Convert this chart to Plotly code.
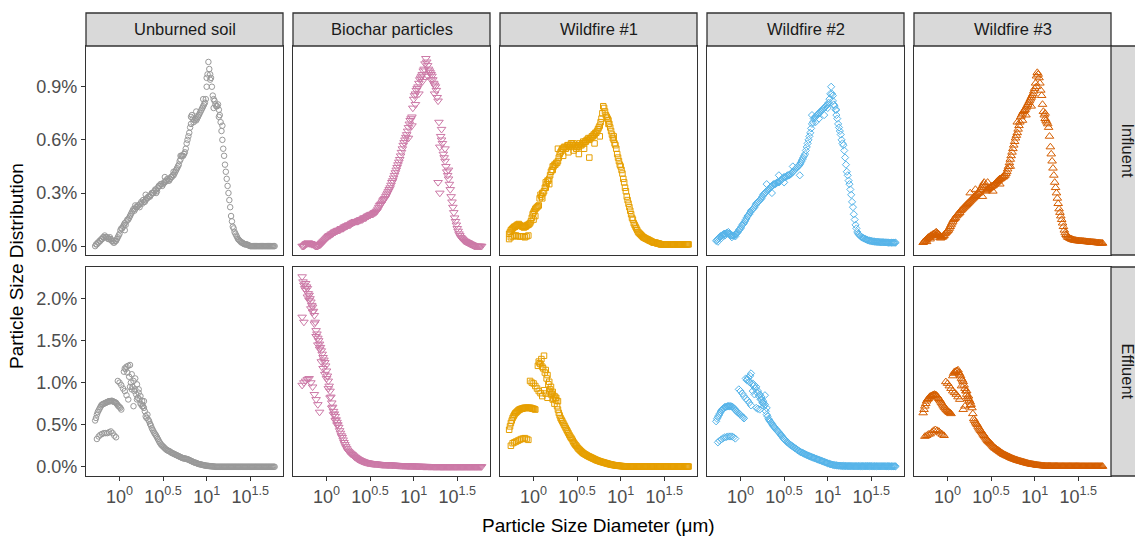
import plotly.graph_objects as go

# ---------------- data (log10 of particle diameter in um, value in %) ----------------
log_d = [-0.28, -0.26, -0.24, -0.22, -0.20, -0.18, -0.16, -0.14, -0.12, -0.10,
         -0.08, -0.06, -0.04, -0.02, 0.00, 0.02, 0.04, 0.06, 0.08, 0.10,
         0.12, 0.14, 0.16, 0.18, 0.20, 0.22, 0.24, 0.26, 0.28, 0.30,
         0.32, 0.34, 0.36, 0.38, 0.40, 0.42, 0.44, 0.46, 0.48, 0.50,
         0.52, 0.54, 0.56, 0.58, 0.60, 0.62, 0.64, 0.66, 0.68, 0.70,
         0.72, 0.74, 0.76, 0.78, 0.80, 0.82, 0.84, 0.86, 0.88, 0.90,
         0.92, 0.94, 0.96, 0.98, 1.00, 1.02, 1.04, 1.06, 1.08, 1.10,
         1.12, 1.14, 1.16, 1.18, 1.20, 1.22, 1.24, 1.26, 1.28, 1.30,
         1.32, 1.34, 1.36, 1.38, 1.40, 1.42, 1.44, 1.46, 1.48, 1.50,
         1.52, 1.54, 1.56, 1.58, 1.60, 1.62, 1.64, 1.66, 1.68, 1.70,
         1.72, 1.74, 1.76, 1.78]
# second replicate measured on interleaved bins
log_d2 = [-0.27, -0.25, -0.23, -0.21, -0.19, -0.17, -0.15, -0.13, -0.11, -0.09,
          -0.07, -0.05, -0.03, -0.01, 0.01, 0.03, 0.05, 0.07, 0.09, 0.11,
          0.13, 0.15, 0.17, 0.19, 0.21, 0.23, 0.25, 0.27, 0.29, 0.31,
          0.33, 0.35, 0.37, 0.39, 0.41, 0.43, 0.45, 0.47, 0.49, 0.51,
          0.53, 0.55, 0.57, 0.59, 0.61, 0.63, 0.65, 0.67, 0.69, 0.71,
          0.73, 0.75, 0.77, 0.79, 0.81, 0.83, 0.85, 0.87, 0.89, 0.91,
          0.93, 0.95, 0.97, 0.99, 1.01, 1.03, 1.05, 1.07, 1.09, 1.11,
          1.13, 1.15, 1.17, 1.19, 1.21, 1.23, 1.25, 1.27, 1.29, 1.31,
          1.33, 1.35, 1.37, 1.39, 1.41, 1.43, 1.45, 1.47, 1.49, 1.51,
          1.53, 1.55, 1.57, 1.59, 1.61, 1.63, 1.65, 1.67, 1.69, 1.71,
          1.73, 1.75, 1.77]

samples = ["Unburned soil", "Biochar particles", "Wildfire #1", "Wildfire #2", "Wildfire #3"]
rows = ["Influent", "Effluent"]

# ---- Influent ----
unburned_inf = [0.00, 0.01, 0.02, 0.03, 0.04, 0.05, 0.05, 0.05, 0.04, 0.04,
                0.03, 0.02, 0.03, 0.05, 0.07, 0.10, 0.11, 0.13, 0.14, 0.15,
                0.17, 0.19, 0.21, 0.21, 0.22, 0.23, 0.24, 0.24, 0.25, 0.26,
                0.27, 0.28, 0.29, 0.30, 0.31, 0.32, 0.33, 0.34, 0.35, 0.35,
                0.36, 0.37, 0.37, 0.38, 0.39, 0.40, 0.42, 0.44, 0.46, 0.49,
                0.51, 0.52, 0.55, 0.60, 0.64, 0.69, 0.72, 0.71, 0.71, 0.73,
                0.75, 0.77, 0.79, 0.81, 0.90, 1.04, 0.97, 0.90, 0.83, 0.80,
                0.79, 0.77, 0.70, 0.60, 0.51, 0.42, 0.34, 0.26, 0.17, 0.11,
                0.08, 0.06, 0.04, 0.03, 0.02, 0.015, 0.01, 0.01, 0.005, 0.0,
                0.0, 0.0, 0.0, 0.0, 0.0, 0.0, 0.0, 0.0, 0.0, 0.0,
                0.0, 0.0, 0.0, 0.0]
unburned_inf_rep2 = [0.01, 0.02, 0.03, 0.04, 0.05, 0.06, 0.05, 0.04, 0.05, 0.03,
                     0.02, 0.03, 0.04, 0.06, 0.09, 0.10, 0.12, 0.12, 0.15, 0.16,
                     0.18, 0.20, 0.20, 0.22, 0.23, 0.22, 0.25, 0.26, 0.25, 0.27,
                     0.28, 0.28, 0.30, 0.30, 0.32, 0.31, 0.34, 0.35, 0.34, 0.36,
                     0.37, 0.38, 0.37, 0.39, 0.40, 0.41, 0.43, 0.45, 0.48, 0.51,
                     0.51, 0.53, 0.58, 0.62, 0.67, 0.74, 0.70, 0.72, 0.72, 0.74,
                     0.76, 0.78, 0.80, 0.83, 0.97, 1.00, 0.95, 0.85, 0.82, 0.79,
                     0.80, 0.74, 0.65, 0.55, 0.46, 0.38, 0.30, 0.22, 0.14, 0.10,
                     0.07, 0.05, 0.035, 0.025, 0.02, 0.012, 0.01, 0.007, 0.003, 0.0,
                     0.0, 0.0, 0.0, 0.0, 0.0, 0.0, 0.0, 0.0, 0.0, 0.0,
                     0.0, 0.0, 0.0]
unburned_inf_b_x = [0.06, 0.18, 0.30, 0.42, 0.52, 0.62, 0.70, 0.82, 0.88, 0.96, 1.00, 1.04, 1.08, 1.14, 1.18]
unburned_inf_b = [0.09, 0.23, 0.29, 0.30, 0.39, 0.42, 0.51, 0.73, 0.76, 0.83, 0.95, 0.94, 0.78, 0.73, 0.68]

biochar_inf = [0.00, 0.00, 0.01, 0.015, 0.015, 0.015, 0.01, 0.005, 0.00, 0.00,
               0.005, 0.015, 0.025, 0.035, 0.045, 0.055, 0.06, 0.07, 0.075, 0.08,
               0.085, 0.09, 0.095, 0.10, 0.105, 0.11, 0.115, 0.12, 0.125, 0.13,
               0.135, 0.14, 0.14, 0.145, 0.15, 0.155, 0.16, 0.165, 0.17, 0.175,
               0.18, 0.185, 0.19, 0.20, 0.22, 0.235, 0.25, 0.265, 0.28, 0.30,
               0.32, 0.345, 0.37, 0.40, 0.43, 0.46, 0.49, 0.53, 0.57, 0.60,
               0.63, 0.67, 0.71, 0.73, 0.83, 0.86, 0.89, 0.92, 0.95, 0.97,
               1.00, 1.06, 1.02, 0.99, 0.97, 0.94, 0.91, 0.88, 0.82, 0.56,
               0.66, 0.52, 0.48, 0.42, 0.38, 0.32, 0.25, 0.19, 0.14, 0.10,
               0.07, 0.05, 0.04, 0.03, 0.025, 0.02, 0.015, 0.01, 0.005, 0.0,
               0.0, 0.0, 0.0, 0.0]
biochar_inf_rep2 = [0.00, 0.005, 0.015, 0.02, 0.015, 0.01, 0.01, 0.00, 0.00, 0.005,
                    0.01, 0.02, 0.03, 0.04, 0.05, 0.06, 0.065, 0.07, 0.08, 0.085,
                    0.09, 0.09, 0.10, 0.10, 0.11, 0.115, 0.12, 0.12, 0.13, 0.135,
                    0.14, 0.14, 0.145, 0.15, 0.15, 0.16, 0.16, 0.17, 0.175, 0.18,
                    0.18, 0.19, 0.195, 0.21, 0.23, 0.24, 0.26, 0.27, 0.29, 0.31,
                    0.33, 0.36, 0.385, 0.415, 0.445, 0.475, 0.51, 0.55, 0.585, 0.615,
                    0.65, 0.69, 0.72, 0.78, 0.85, 0.88, 0.90, 0.94, 0.96, 0.99,
                    1.03, 1.04, 1.00, 0.98, 0.96, 0.92, 0.90, 0.84, 0.70, 0.62,
                    0.58, 0.50, 0.45, 0.40, 0.35, 0.28, 0.22, 0.16, 0.12, 0.085,
                    0.06, 0.045, 0.035, 0.028, 0.022, 0.018, 0.012, 0.008, 0.003, 0.0,
                    0.0, 0.0, 0.0]
biochar_inf_b_x = [1.28, 1.30, 1.02, 1.06, 1.10, 1.16, 1.20, 1.24, 1.32, 1.36, 1.40, 0.98, 0.94]
biochar_inf_b = [0.36, 0.30, 0.80, 0.86, 0.93, 0.96, 0.94, 0.86, 0.60, 0.55, 0.43, 0.68, 0.61]

wf1_inf = [0.07, 0.09, 0.10, 0.11, 0.115, 0.12, 0.12, 0.115, 0.11, 0.11,
           0.115, 0.12, 0.13, 0.16, 0.19, 0.21, 0.22, 0.23, 0.29, 0.30,
           0.31, 0.36, 0.37, 0.38, 0.42, 0.45, 0.46, 0.47, 0.48, 0.52,
           0.54, 0.55, 0.56, 0.56, 0.57, 0.57, 0.58, 0.58, 0.57, 0.56,
           0.56, 0.57, 0.58, 0.58, 0.59, 0.60, 0.60, 0.61, 0.62, 0.63,
           0.64, 0.66, 0.68, 0.72, 0.79, 0.76, 0.73, 0.71, 0.67, 0.63,
           0.60, 0.57, 0.52, 0.48, 0.45, 0.41, 0.36, 0.31, 0.26, 0.22,
           0.18, 0.15, 0.12, 0.10, 0.08, 0.07, 0.06, 0.05, 0.045, 0.04,
           0.035, 0.03, 0.025, 0.02, 0.02, 0.015, 0.015, 0.01, 0.01, 0.01,
           0.01, 0.01, 0.01, 0.01, 0.01, 0.01, 0.01, 0.01, 0.01, 0.01,
           0.01, 0.01, 0.01, 0.01]
wf1_inf_rep2 = [0.08, 0.095, 0.105, 0.11, 0.12, 0.125, 0.115, 0.11, 0.105, 0.11,
                0.12, 0.125, 0.14, 0.18, 0.20, 0.215, 0.225, 0.27, 0.28, 0.30,
                0.33, 0.35, 0.37, 0.40, 0.43, 0.45, 0.46, 0.47, 0.50, 0.53,
                0.55, 0.56, 0.55, 0.57, 0.56, 0.58, 0.57, 0.56, 0.55, 0.57,
                0.58, 0.57, 0.59, 0.59, 0.60, 0.61, 0.61, 0.62, 0.63, 0.64,
                0.65, 0.67, 0.70, 0.75, 0.78, 0.74, 0.72, 0.69, 0.65, 0.61,
                0.58, 0.55, 0.50, 0.46, 0.43, 0.38, 0.33, 0.28, 0.24, 0.20,
                0.16, 0.13, 0.11, 0.09, 0.075, 0.065, 0.055, 0.048, 0.042, 0.038,
                0.032, 0.028, 0.022, 0.02, 0.018, 0.015, 0.012, 0.01, 0.01, 0.01,
                0.01, 0.01, 0.01, 0.01, 0.01, 0.01, 0.01, 0.01, 0.01, 0.01,
                0.01, 0.01, 0.01]
wf1_inf_b_x = [-0.28, -0.26, -0.24, -0.22, -0.20, -0.18, -0.16, -0.14, -0.12, -0.10, -0.08, -0.06,
               0.00, 0.02, 0.10, 0.14, 0.18, 0.22, 0.28, 0.34, 0.40, 0.46, 0.52, 0.58, 0.64,
               0.70, 0.76, 0.86, 0.92]
wf1_inf_b = [0.04, 0.05, 0.055, 0.06, 0.06, 0.055, 0.055, 0.055, 0.055, 0.05, 0.055, 0.06,
             0.15, 0.17, 0.27, 0.33, 0.35, 0.43, 0.55, 0.51, 0.53, 0.54, 0.52, 0.55, 0.50,
             0.58, 0.62, 0.69, 0.62]

wf2_inf = [0.03, 0.04, 0.05, 0.06, 0.065, 0.07, 0.075, 0.07, 0.065, 0.06,
           0.06, 0.065, 0.075, 0.09, 0.10, 0.12, 0.13, 0.15, 0.17, 0.18,
           0.20, 0.21, 0.22, 0.24, 0.25, 0.26, 0.27, 0.29, 0.30, 0.31,
           0.32, 0.33, 0.34, 0.35, 0.35, 0.36, 0.36, 0.37, 0.38, 0.39,
           0.39, 0.40, 0.40, 0.41, 0.42, 0.43, 0.44, 0.45, 0.46, 0.48,
           0.50, 0.52, 0.56, 0.60, 0.64, 0.69, 0.72, 0.73, 0.74, 0.75,
           0.76, 0.77, 0.78, 0.79, 0.80, 0.83, 0.90, 0.82, 0.79, 0.74,
           0.69, 0.65, 0.60, 0.57, 0.50, 0.42, 0.37, 0.32, 0.25, 0.18,
           0.12, 0.08, 0.065, 0.055, 0.048, 0.043, 0.038, 0.034, 0.031, 0.029,
           0.027, 0.026, 0.025, 0.024, 0.023, 0.022, 0.022, 0.021, 0.021, 0.02,
           0.02, 0.02, 0.02, 0.02]
wf2_inf_rep2 = [0.035, 0.045, 0.055, 0.06, 0.07, 0.07, 0.075, 0.07, 0.06, 0.06,
                0.06, 0.07, 0.08, 0.095, 0.11, 0.125, 0.14, 0.16, 0.175, 0.19,
                0.205, 0.215, 0.23, 0.245, 0.255, 0.265, 0.28, 0.295, 0.305, 0.315,
                0.325, 0.335, 0.345, 0.35, 0.355, 0.36, 0.365, 0.375, 0.385, 0.39,
                0.395, 0.40, 0.405, 0.415, 0.425, 0.435, 0.445, 0.455, 0.47, 0.49,
                0.51, 0.54, 0.58, 0.62, 0.665, 0.70, 0.725, 0.735, 0.745, 0.755,
                0.765, 0.775, 0.785, 0.795, 0.81, 0.86, 0.86, 0.80, 0.77, 0.72,
                0.67, 0.63, 0.58, 0.54, 0.46, 0.40, 0.35, 0.29, 0.22, 0.15,
                0.10, 0.07, 0.06, 0.05, 0.045, 0.04, 0.036, 0.032, 0.03, 0.028,
                0.026, 0.025, 0.024, 0.023, 0.022, 0.022, 0.021, 0.021, 0.02, 0.02,
                0.02, 0.02, 0.02]
wf2_inf_b_x = [-0.26, -0.22, -0.18, -0.14, -0.10, -0.06, 0.30, 0.36, 0.44, 0.50, 0.60, 0.68,
               0.82, 0.86, 0.90, 0.96, 1.00, 1.06, 1.10]
wf2_inf_b = [0.025, 0.045, 0.06, 0.08, 0.05, 0.055, 0.35, 0.30, 0.40, 0.36, 0.45, 0.40,
             0.74, 0.70, 0.72, 0.74, 0.78, 0.85, 0.77]

wf3_inf = [0.02, 0.03, 0.04, 0.05, 0.055, 0.06, 0.07, 0.075, 0.075, 0.065,
           0.055, 0.05, 0.06, 0.075, 0.085, 0.10, 0.12, 0.14, 0.155, 0.17,
           0.18, 0.19, 0.205, 0.215, 0.225, 0.235, 0.245, 0.255, 0.265, 0.275,
           0.285, 0.295, 0.30, 0.32, 0.34, 0.36, 0.31, 0.32, 0.33, 0.335,
           0.34, 0.35, 0.36, 0.37, 0.38, 0.385, 0.39, 0.40, 0.42, 0.45,
           0.49, 0.53, 0.57, 0.61, 0.64, 0.68, 0.73, 0.75, 0.765, 0.78,
           0.80, 0.82, 0.84, 0.86, 0.89, 0.96, 0.97, 0.92, 0.85, 0.76,
           0.72, 0.70, 0.67, 0.56, 0.48, 0.40, 0.33, 0.27, 0.21, 0.17,
           0.13, 0.09, 0.065, 0.05, 0.045, 0.04, 0.036, 0.033, 0.031, 0.03,
           0.029, 0.028, 0.027, 0.026, 0.025, 0.024, 0.023, 0.022, 0.021, 0.02,
           0.019, 0.018, 0.017, 0.016]
wf3_inf_rep2 = [0.025, 0.035, 0.045, 0.05, 0.06, 0.065, 0.07, 0.08, 0.07, 0.06,
                0.05, 0.055, 0.07, 0.08, 0.09, 0.11, 0.13, 0.15, 0.16, 0.175,
                0.185, 0.20, 0.21, 0.22, 0.23, 0.24, 0.25, 0.26, 0.27, 0.28,
                0.29, 0.30, 0.31, 0.33, 0.35, 0.34, 0.315, 0.325, 0.33, 0.34,
                0.345, 0.355, 0.365, 0.375, 0.38, 0.39, 0.395, 0.41, 0.435, 0.47,
                0.51, 0.55, 0.59, 0.625, 0.66, 0.70, 0.74, 0.76, 0.77, 0.79,
                0.81, 0.83, 0.85, 0.875, 0.92, 0.98, 0.95, 0.88, 0.80, 0.74,
                0.71, 0.69, 0.62, 0.52, 0.44, 0.36, 0.30, 0.24, 0.19, 0.15,
                0.11, 0.075, 0.058, 0.048, 0.042, 0.038, 0.034, 0.032, 0.03, 0.029,
                0.028, 0.027, 0.026, 0.025, 0.024, 0.023, 0.022, 0.021, 0.02, 0.019,
                0.018, 0.017, 0.016]
wf3_inf_b_x = [-0.24, -0.20, -0.16, -0.12, -0.08, 0.26, 0.32, 0.40, 0.46, 0.52, 0.60, 0.72,
               0.80, 0.86, 0.90, 0.96, 1.02, 1.12]
wf3_inf_b = [0.025, 0.04, 0.05, 0.06, 0.045, 0.30, 0.32, 0.28, 0.36, 0.31, 0.35, 0.45,
             0.70, 0.71, 0.74, 0.79, 0.90, 0.75]

# ---- Effluent ----
unburned_eff = [0.55, 0.62, 0.67, 0.71, 0.74, 0.75, 0.76, 0.77, 0.78, 0.78,
                0.78, 0.77, 0.76, 0.73, 0.71, 0.68, None, 1.17, 1.19, 1.20,
                1.21, 1.10, 1.02, 0.92, 0.80, 0.88, 0.84, 0.78, 0.70, 0.60,
                0.62, 0.54, 0.49, 0.44, 0.40, 0.37, 0.33, 0.29, 0.26, 0.24,
                0.22, 0.20, 0.19, 0.18, 0.165, 0.155, 0.145, 0.135, 0.125, 0.115,
                0.105, 0.10, 0.095, 0.09, 0.08, 0.07, 0.06, 0.05, 0.045, 0.035,
                0.03, 0.025, 0.02, 0.015, 0.012, 0.01, 0.007, 0.005, 0.003, 0.0,
                0.0, 0.0, 0.0, 0.0, 0.0, 0.0, 0.0, 0.0, 0.0, 0.0,
                0.0, 0.0, 0.0, 0.0, 0.0, 0.0, 0.0, 0.0, 0.0, 0.0,
                0.0, 0.0, 0.0, 0.0, 0.0, 0.0, 0.0, 0.0, 0.0, 0.0,
                0.0, 0.0, 0.0, 0.0]
unburned_eff_rep2 = [0.58, 0.65, 0.69, 0.73, 0.745, 0.755, 0.765, 0.775, 0.78, 0.785,
                     0.775, 0.765, 0.745, 0.72, 0.70, None, 1.13, 1.16, 1.12, 1.07,
                     1.00, 0.95, 0.90, 0.86, 0.82, 0.80, 0.74, 0.72, 0.66, 0.58,
                     0.56, 0.51, 0.46, 0.42, 0.385, 0.35, 0.31, 0.275, 0.25, 0.23,
                     0.21, 0.195, 0.185, 0.17, 0.16, 0.15, 0.14, 0.13, 0.12, 0.11,
                     0.10, 0.098, 0.092, 0.085, 0.075, 0.065, 0.055, 0.048, 0.04, 0.032,
                     0.028, 0.022, 0.018, 0.013, 0.011, 0.008, 0.006, 0.004, 0.002, 0.0,
                     0.0, 0.0, 0.0, 0.0, 0.0, 0.0, 0.0, 0.0, 0.0, 0.0,
                     0.0, 0.0, 0.0, 0.0, 0.0, 0.0, 0.0, 0.0, 0.0, 0.0,
                     0.0, 0.0, 0.0, 0.0, 0.0, 0.0, 0.0, 0.0, 0.0, 0.0,
                     0.0, 0.0, 0.0]
unburned_eff_low_x = [-0.26, -0.24, -0.22, -0.20, -0.18, -0.16, -0.14, -0.12, -0.10, -0.08, -0.06, -0.04]
unburned_eff_low = [0.33, 0.36, 0.38, 0.39, 0.40, 0.40, 0.40, 0.41, 0.42, 0.40, 0.37, 0.35]
unburned_eff_mid_x = [-0.02, 0.00, 0.02, 0.04, 0.06, 0.08, 0.10, 0.12, 0.14, 0.16, 0.18, 0.20, 0.22, 0.24, 0.26, 0.28]
unburned_eff_mid = [1.02, 1.00, 0.97, 0.93, 0.90, 0.85, 0.80, 0.95, 0.92, 0.72, 1.05, 0.98, 0.92, 0.75, 0.72, 0.78]

biochar_eff = [2.26, 2.16, 2.10, 2.12, 2.04, 1.96, 1.90, 1.80, 1.62, 1.53,
               1.46, 1.38, 1.30, 1.24, 1.14, 1.02, 0.90, 0.76, 0.66, 0.60,
               0.53, 0.47, 0.40, 0.35, 0.29, 0.24, 0.20, 0.175, 0.155, 0.14,
               0.12, 0.105, 0.09, 0.08, 0.07, 0.062, 0.055, 0.05, 0.045, 0.042,
               0.039, 0.036, 0.034, 0.032, 0.03, 0.028, 0.026, 0.025, 0.024, 0.023,
               0.022, 0.021, 0.02, 0.019, 0.018, 0.017, 0.016, 0.015, 0.014, 0.013,
               0.012, 0.011, 0.01, 0.009, 0.008, 0.008, 0.007, 0.007, 0.006, 0.006,
               0.005, 0.005, 0.005, 0.004, 0.004, 0.004, 0.003, 0.003, 0.003, 0.003,
               0.002, 0.002, 0.002, 0.002, 0.002, 0.002, 0.002, 0.002, 0.002, 0.002,
               0.002, 0.002, 0.002, 0.002, 0.002, 0.002, 0.002, 0.002, 0.002, 0.002,
               0.002, 0.002, 0.002, 0.002]
biochar_eff_rep2 = [2.20, 2.12, 2.14, 2.06, 2.00, 1.92, 1.85, 1.72, 1.58, 1.50,
                    1.42, 1.34, 1.27, 1.20, 1.08, 0.96, 0.83, 0.71, 0.63, 0.56,
                    0.50, 0.43, 0.37, 0.32, 0.265, 0.22, 0.185, 0.165, 0.148, 0.13,
                    0.112, 0.098, 0.085, 0.075, 0.066, 0.058, 0.052, 0.047, 0.044, 0.04,
                    0.037, 0.035, 0.033, 0.031, 0.029, 0.027, 0.025, 0.024, 0.023, 0.022,
                    0.021, 0.02, 0.019, 0.018, 0.017, 0.016, 0.015, 0.014, 0.013, 0.012,
                    0.011, 0.01, 0.009, 0.009, 0.008, 0.007, 0.007, 0.006, 0.006, 0.005,
                    0.005, 0.005, 0.004, 0.004, 0.004, 0.003, 0.003, 0.003, 0.003, 0.002,
                    0.002, 0.002, 0.002, 0.002, 0.002, 0.002, 0.002, 0.002, 0.002, 0.002,
                    0.002, 0.002, 0.002, 0.002, 0.002, 0.002, 0.002, 0.002, 0.002, 0.002,
                    0.002, 0.002, 0.002]
biochar_eff_b_x = [-0.28, -0.26, -0.24, -0.22, -0.20, -0.18, -0.16, -0.14, -0.12, -0.10, -0.08,
                   -0.06, -0.04, -0.02, 0.00, 0.02, 0.04, 0.06, 0.08, 0.10, 0.12]
biochar_eff_b = [1.78, 1.72, 2.18, 2.02, 1.98, 1.88, 1.84, 1.70, 1.55, 1.45, 1.40,
                 1.25, 1.17, 1.10, 1.05, 0.93, 0.82, 0.70, 0.62, 0.55, 0.50]
biochar_eff_low_x = [-0.28, -0.26, -0.24, -0.22, -0.20, -0.18, -0.16, -0.14, -0.12, -0.10, -0.08]
biochar_eff_low = [0.97, 1.00, 1.02, 1.04, 1.05, 1.00, 0.95, 0.86, 0.80, 0.74, 0.65]

wf1_eff = [0.44, 0.52, 0.58, 0.62, 0.645, 0.665, 0.68, 0.69, 0.695, 0.70,
           0.70, 0.70, 0.70, 0.695, 0.69, 0.68, None, 1.25, 1.22, 1.19,
           1.32, 1.15, 1.09, 1.01, 0.95, 0.89, 0.84, 0.79, 0.68, 0.61,
           0.56, 0.52, 0.48, 0.44, 0.40, 0.36, 0.33, 0.29, 0.26, 0.235,
           0.21, 0.19, 0.17, 0.155, 0.143, 0.13, 0.12, 0.11, 0.10, 0.09,
           0.08, 0.072, 0.065, 0.058, 0.052, 0.046, 0.04, 0.034, 0.029, 0.024,
           0.02, 0.017, 0.014, 0.011, 0.009, 0.007, 0.006, 0.005, 0.005, 0.004,
           0.003, 0.003, 0.003, 0.003, 0.003, 0.003, 0.003, 0.003, 0.003, 0.003,
           0.003, 0.003, 0.003, 0.003, 0.003, 0.003, 0.003, 0.003, 0.003, 0.003,
           0.003, 0.003, 0.003, 0.003, 0.003, 0.003, 0.003, 0.003, 0.003, 0.003,
           0.003, 0.003, 0.003, 0.003]
wf1_eff_rep2 = [0.48, 0.55, 0.60, 0.635, 0.655, 0.675, 0.685, 0.69, 0.70, 0.70,
                0.70, 0.70, 0.70, 0.69, 0.685, None, 1.20, 1.23, 1.28, 1.17,
                1.12, 1.05, 0.98, 0.92, 0.87, 0.81, 0.82, 0.72, 0.64, 0.58,
                0.54, 0.50, 0.46, 0.42, 0.38, 0.345, 0.31, 0.275, 0.25, 0.22,
                0.20, 0.18, 0.162, 0.149, 0.136, 0.125, 0.115, 0.105, 0.095, 0.085,
                0.076, 0.068, 0.061, 0.055, 0.049, 0.043, 0.037, 0.031, 0.026, 0.022,
                0.018, 0.015, 0.012, 0.01, 0.008, 0.006, 0.005, 0.005, 0.004, 0.004,
                0.003, 0.003, 0.003, 0.003, 0.003, 0.003, 0.003, 0.003, 0.003, 0.003,
                0.003, 0.003, 0.003, 0.003, 0.003, 0.003, 0.003, 0.003, 0.003, 0.003,
                0.003, 0.003, 0.003, 0.003, 0.003, 0.003, 0.003, 0.003, 0.003, 0.003,
                0.003, 0.003, 0.003]
wf1_eff_low_x = [-0.26, -0.24, -0.22, -0.20, -0.18, -0.16, -0.14, -0.12, -0.10, -0.08, -0.06]
wf1_eff_low = [0.25, 0.28, 0.29, 0.30, 0.31, 0.32, 0.33, 0.335, 0.34, 0.33, 0.32]
wf1_eff_mid_x = [-0.04, -0.02, 0.00, 0.02, 0.04, 0.06, 0.08, 0.10, 0.12, 0.14, 0.16, 0.18, 0.20,
                 0.22, 0.24, 0.26, 0.28]
wf1_eff_mid = [1.02, 1.00, 0.99, 0.96, 0.93, 0.90, 0.875, 0.84, 0.91, 0.87, 0.82, 0.90, 0.86,
               0.80, 0.75, 0.82, 0.78]

wf2_eff = [0.54, 0.59, 0.63, 0.67, 0.69, 0.71, 0.715, 0.72, 0.72, 0.715,
           0.70, 0.675, 0.655, 0.635, 0.615, 0.595, 0.575, 1.05, 1.04, 1.01,
           1.11, 0.99, 0.97, 0.95, 0.90, 0.86, 0.83, 0.78, 0.74, 0.62,
           0.57, 0.54, 0.51, 0.48, 0.455, 0.43, 0.41, 0.38, 0.355, 0.33,
           0.31, 0.29, 0.27, 0.255, 0.24, 0.225, 0.21, 0.195, 0.18, 0.17,
           0.16, 0.15, 0.14, 0.13, 0.122, 0.114, 0.106, 0.098, 0.09, 0.082,
           0.074, 0.066, 0.058, 0.05, 0.042, 0.035, 0.028, 0.023, 0.019, 0.016,
           0.014, 0.012, 0.011, 0.01, 0.009, 0.009, 0.008, 0.008, 0.008, 0.007,
           0.007, 0.007, 0.007, 0.007, 0.007, 0.007, 0.007, 0.007, 0.007, 0.007,
           0.006, 0.006, 0.006, 0.006, 0.006, 0.006, 0.006, 0.006, 0.006, 0.006,
           0.005, 0.005, 0.005, 0.005]
wf2_eff_rep2 = [0.57, 0.61, 0.65, 0.68, 0.70, 0.71, 0.72, 0.72, 0.72, 0.71,
                0.69, 0.665, 0.645, 0.625, 0.605, 0.585, None, 1.03, 1.06, 1.08,
                0.98, 0.96, 0.93, 0.88, 0.84, 0.80, 0.76, 0.72, 0.66, 0.60,
                0.555, 0.525, 0.495, 0.47, 0.44, 0.42, 0.395, 0.37, 0.34, 0.32,
                0.30, 0.28, 0.262, 0.248, 0.232, 0.218, 0.202, 0.188, 0.175, 0.165,
                0.155, 0.145, 0.135, 0.126, 0.118, 0.11, 0.102, 0.094, 0.086, 0.078,
                0.07, 0.062, 0.054, 0.046, 0.038, 0.031, 0.025, 0.021, 0.017, 0.015,
                0.013, 0.011, 0.01, 0.009, 0.009, 0.008, 0.008, 0.008, 0.007, 0.007,
                0.007, 0.007, 0.007, 0.007, 0.007, 0.007, 0.007, 0.007, 0.007, 0.007,
                0.006, 0.006, 0.006, 0.006, 0.006, 0.006, 0.006, 0.006, 0.006, 0.006,
                0.005, 0.005, 0.005]
wf2_eff_low_x = [-0.26, -0.24, -0.22, -0.20, -0.18, -0.16, -0.14, -0.12, -0.10, -0.08, -0.06]
wf2_eff_low = [0.29, 0.31, 0.325, 0.34, 0.35, 0.355, 0.36, 0.36, 0.36, 0.35, 0.335]
wf2_eff_mid_x = [-0.02, 0.00, 0.02, 0.04, 0.06, 0.08, 0.10, 0.12, 0.14, 0.16, 0.18, 0.20, 0.22,
                 0.24, 0.26, 0.28, 0.30]
wf2_eff_mid = [0.92, 0.90, 0.87, 0.84, 0.81, 0.79, 0.76, 0.73, 0.90, 0.86, 0.70, 0.69, 0.68,
               0.80, 0.76, 0.85, 0.70]

wf3_eff = [0.64, 0.72, 0.78, 0.81, 0.835, 0.845, 0.855, 0.855, 0.84, 0.81,
           0.78, 0.745, 0.71, 0.685, 0.665, 0.645, 0.63, 1.08, 1.13, 1.14,
           1.15, 1.10, 1.05, 1.01, 0.93, 0.86, 0.81, 0.77, 0.70, 0.57,
           0.53, 0.50, 0.46, 0.43, 0.40, 0.37, 0.34, 0.31, 0.29, 0.27,
           0.245, 0.225, 0.21, 0.195, 0.18, 0.165, 0.15, 0.14, 0.13, 0.12,
           0.11, 0.10, 0.092, 0.084, 0.077, 0.07, 0.064, 0.058, 0.052, 0.046,
           0.04, 0.035, 0.031, 0.027, 0.024, 0.02, 0.017, 0.014, 0.012, 0.01,
           0.008, 0.007, 0.007, 0.007, 0.006, 0.006, 0.006, 0.006, 0.005, 0.005,
           0.005, 0.005, 0.005, 0.005, 0.005, 0.005, 0.005, 0.005, 0.005, 0.005,
           0.004, 0.004, 0.004, 0.004, 0.004, 0.004, 0.004, 0.004, 0.004, 0.004,
           0.004, 0.004, 0.004, 0.004]
wf3_eff_rep2 = [0.68, 0.75, 0.80, 0.825, 0.84, 0.85, 0.86, 0.85, 0.825, 0.795,
                0.76, 0.73, 0.70, 0.675, 0.655, 0.64, None, 1.11, 1.12, 1.14,
                1.12, 1.08, 1.03, 0.97, 0.90, 0.83, 0.79, 0.74, 0.63, 0.55,
                0.515, 0.48, 0.445, 0.415, 0.385, 0.355, 0.325, 0.30, 0.28, 0.258,
                0.235, 0.218, 0.202, 0.188, 0.172, 0.158, 0.145, 0.135, 0.125, 0.115,
                0.105, 0.096, 0.088, 0.08, 0.073, 0.067, 0.061, 0.055, 0.049, 0.043,
                0.037, 0.033, 0.029, 0.025, 0.022, 0.018, 0.015, 0.013, 0.011, 0.009,
                0.008, 0.007, 0.007, 0.006, 0.006, 0.006, 0.006, 0.005, 0.005, 0.005,
                0.005, 0.005, 0.005, 0.005, 0.005, 0.005, 0.005, 0.005, 0.005, 0.005,
                0.004, 0.004, 0.004, 0.004, 0.004, 0.004, 0.004, 0.004, 0.004, 0.004,
                0.004, 0.004, 0.004]
wf3_eff_low_x = [-0.26, -0.24, -0.22, -0.20, -0.18, -0.16, -0.14, -0.12, -0.10, -0.08, -0.06, -0.04]
wf3_eff_low = [0.36, 0.37, 0.385, 0.39, 0.41, 0.43, 0.44, 0.43, 0.42, 0.40, 0.385, 0.37]
wf3_eff_mid_x = [-0.02, 0.00, 0.02, 0.04, 0.06, 0.08, 0.10, 0.12, 0.14, 0.16, 0.18, 0.20, 0.22, 0.24, 0.26]
wf3_eff_mid = [1.01, 0.99, 0.96, 0.93, 0.90, 0.88, 0.86, 0.83, 0.80, 0.96, 0.68, 0.72, 0.90, 0.84, 0.73]

x_ticks_log = [0, 0.5, 1, 1.5]
x_tick_text = ["10<sup>0</sup>", "10<sup>0.5</sup>", "10<sup>1</sup>", "10<sup>1.5</sup>"]
y_ticks_inf = [0.0, 0.3, 0.6, 0.9]
y_ticks_eff = [0.0, 0.5, 1.0, 1.5, 2.0]

# ---------------- styles ----------------
colors = ["#999999", "#CC79A7", "#E69F00", "#56B4E9", "#D55E00"]
symbols = ["circle-open", "triangle-down-open", "square-open", "diamond-open", "triangle-up-open"]
msizes = [5.5, 7.5, 5.5, 5.5, 7.5]

series = {
    (0, 0): [(log_d, unburned_inf), (log_d2, unburned_inf_rep2), (unburned_inf_b_x, unburned_inf_b)],
    (0, 1): [(log_d, biochar_inf), (log_d2, biochar_inf_rep2), (biochar_inf_b_x, biochar_inf_b)],
    (0, 2): [(log_d, wf1_inf), (log_d2, wf1_inf_rep2), (wf1_inf_b_x, wf1_inf_b)],
    (0, 3): [(log_d, wf2_inf), (log_d2, wf2_inf_rep2), (wf2_inf_b_x, wf2_inf_b)],
    (0, 4): [(log_d, wf3_inf), (log_d2, wf3_inf_rep2), (wf3_inf_b_x, wf3_inf_b)],
    (1, 0): [(log_d, unburned_eff), (log_d2, unburned_eff_rep2), (unburned_eff_low_x, unburned_eff_low),
             (unburned_eff_mid_x, unburned_eff_mid)],
    (1, 1): [(log_d, biochar_eff), (log_d2, biochar_eff_rep2), (biochar_eff_b_x, biochar_eff_b),
             (biochar_eff_low_x, biochar_eff_low)],
    (1, 2): [(log_d, wf1_eff), (log_d2, wf1_eff_rep2), (wf1_eff_low_x, wf1_eff_low), (wf1_eff_mid_x, wf1_eff_mid)],
    (1, 3): [(log_d, wf2_eff), (log_d2, wf2_eff_rep2), (wf2_eff_low_x, wf2_eff_low), (wf2_eff_mid_x, wf2_eff_mid)],
    (1, 4): [(log_d, wf3_eff), (log_d2, wf3_eff_rep2), (wf3_eff_low_x, wf3_eff_low), (wf3_eff_mid_x, wf3_eff_mid)],
}

W, H = 1135, 536
panel_left = [86, 293, 500, 707, 914]
panel_w = 197
row_px = [(46, 255), (267, 476)]
y_ranges = [[-0.05, 1.13], [-0.11, 2.375]]
x_range = [-0.385, 1.876]

fig = go.Figure()
layout = dict(width=W, height=H, margin=dict(l=0, r=0, t=0, b=0),
              paper_bgcolor="white", plot_bgcolor="white", showlegend=False,
              font=dict(family="Liberation Sans, Arial, sans-serif"))

axis_line = dict(showline=True, mirror=True, linecolor="#333333", linewidth=1.3,
                 showgrid=False, zeroline=False)
shapes = []
annotations = []

for r in range(2):
    top, bot = row_px[r]
    ydom = [1 - bot / H, 1 - top / H]
    for c in range(5):
        p = r * 5 + c + 1
        xname = "xaxis" if p == 1 else f"xaxis{p}"
        yname = "yaxis" if p == 1 else f"yaxis{p}"
        xref = "x" if p == 1 else f"x{p}"
        yref = "y" if p == 1 else f"y{p}"
        L = panel_left[c]
        xdom = [L / W, (L + panel_w) / W]
        xa = dict(axis_line, type="log", range=x_range, domain=xdom, anchor=yref)
        if r == 1:
            xa.update(ticks="outside", ticklen=4, tickwidth=1.1, tickcolor="#333333",
                      tickvals=[10 ** v for v in x_ticks_log], ticktext=x_tick_text,
                      tickfont=dict(size=18, color="#4D4D4D"), showticklabels=True)
        else:
            xa.update(ticks="", showticklabels=False)
        ya = dict(axis_line, range=y_ranges[r], domain=ydom, anchor=xref)
        if c == 0:
            tv = y_ticks_inf if r == 0 else y_ticks_eff
            ya.update(ticks="outside", ticklen=4, tickwidth=1.1, tickcolor="#333333",
                      tickvals=tv, ticktext=[f"{v:.1f}%" for v in tv],
                      tickfont=dict(size=18, color="#4D4D4D"), showticklabels=True)
        else:
            ya.update(ticks="", showticklabels=False)
        layout[xname] = xa
        layout[yname] = ya

        for xs, ys in series[(r, c)]:
            fig.add_trace(go.Scatter(
                x=[10 ** v for v in xs], y=ys, mode="markers", xaxis=xref, yaxis=yref,
                marker=dict(symbol=symbols[c], size=msizes[c], color=colors[c],
                            line=dict(width=1, color=colors[c])),
                hoverinfo="skip", cliponaxis=True))

# strips on top
for c in range(5):
    L = panel_left[c]
    shapes.append(dict(type="rect", xref="paper", yref="paper",
                       x0=L / W, x1=(L + panel_w) / W, y0=1 - 46 / H, y1=1 - 13 / H,
                       fillcolor="#D9D9D9", line=dict(color="#333333", width=1.3)))
    annotations.append(dict(text=samples[c], xref="paper", yref="paper",
                            x=(L + panel_w / 2) / W, y=1 - 29.5 / H, showarrow=False,
                            xanchor="center", yanchor="middle",
                            font=dict(size=16.5, color="#1A1A1A")))
# strips on right
for r in range(2):
    top, bot = row_px[r]
    shapes.append(dict(type="rect", xref="paper", yref="paper",
                       x0=1111 / W, x1=1150 / W, y0=1 - bot / H, y1=1 - top / H,
                       fillcolor="#D9D9D9", line=dict(color="#333333", width=1.3)))
    annotations.append(dict(text=rows[r], xref="paper", yref="paper",
                            x=1128 / W, y=1 - (top + bot) / 2 / H, showarrow=False,
                            textangle=90, xanchor="center", yanchor="middle",
                            font=dict(size=16.5, color="#1A1A1A")))

annotations.append(dict(text="Particle Size Distribution", xref="paper", yref="paper",
                        x=17 / W, y=1 - 266 / H, showarrow=False, textangle=-90,
                        xanchor="center", yanchor="middle",
                        font=dict(size=19, color="black")))
annotations.append(dict(text="Particle Size Diameter (\u03bcm)", xref="paper", yref="paper",
                        x=598.5 / W, y=1 - 525 / H, showarrow=False,
                        xanchor="center", yanchor="middle",
                        font=dict(size=19, color="black")))

layout["shapes"] = shapes
layout["annotations"] = annotations
fig.update_layout(**layout)
fig.write_html("out.html", config={"displayModeBar": False},
               post_script="document.body.style.margin='0px';document.body.style.overflow='hidden';")
